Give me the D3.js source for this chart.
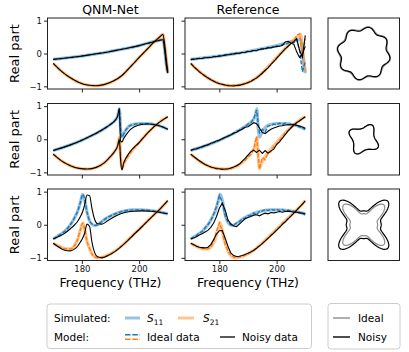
<!DOCTYPE html>
<html>
<head>
<meta charset="utf-8">
<script src="https://cdn.jsdelivr.net/npm/d3@7"></script>
<style>
  body { margin: 0; background: #fff; }
  text { font-family: "DejaVu Sans", sans-serif; }
</style>
</head>
<body>
<div id="chart"></div>
<script>
// Real part of S11 / S21 vs frequency, simulated vs model, 3 shapes

var panelTitles = ["QNM-Net", "Reference"];
var xTicks = [180, 200];
var yTicks = [-1, 0, 1];

// ---- row 1 (wavy circle) ----
var r1Freq = [170,173,176,179,182,185,188,191,194,197,200,203,205,206.5,207.5,208.3,209,209.5,210];
var r1SimS11 = [-0.18,-0.15,-0.12,-0.09,-0.05,-0.01,0.03,0.08,0.13,0.18,0.24,0.31,0.36,0.39,0.41,0.42,0.05,-0.35,-0.6];
var r1SimS21 = [-0.30,-0.55,-0.74,-0.88,-0.96,-0.98,-0.94,-0.84,-0.67,-0.4,-0.12,0.15,0.33,0.45,0.53,0.58,0.2,-0.2,-0.55];

// reference method outputs sampled every 1 THz, 170..210
var refFreq = [170,171,172,173,174,175,176,177,178,179,180,181,182,183,184,185,186,187,188,189,
               190,191,192,193,194,195,196,197,198,199,200,201,202,203,204,205,206,207,208,209,210];

var r1RefIdealS11 = [-0.19,-0.16,-0.17,-0.14,-0.15,-0.11,-0.13,-0.1,-0.09,-0.1,-0.06,-0.07,-0.04,-0.05,-0.01,-0.02,0.02,0.0,0.04,0.03,
                     0.07,0.06,0.1,0.08,0.13,0.14,0.13,0.19,0.17,0.21,0.24,0.23,0.28,0.27,0.32,0.36,0.33,0.42,0.1,-0.55,-0.25];
var r1RefIdealS21 = [-0.31,-0.37,-0.49,-0.53,-0.64,-0.66,-0.76,-0.77,-0.86,-0.86,-0.93,-0.92,-0.98,-0.95,-1.0,-0.96,-0.99,-0.94,-0.96,-0.89,
                     -0.9,-0.82,-0.81,-0.72,-0.69,-0.57,-0.53,-0.41,-0.35,-0.22,-0.16,-0.02,0.03,0.17,0.22,0.35,0.38,0.55,0.6,-0.05,0.45];
var r1RefNoisyS11 = [-0.18,-0.18,-0.16,-0.15,-0.15,-0.13,-0.12,-0.12,-0.1,-0.09,-0.08,-0.07,-0.05,-0.04,-0.03,-0.01,0.0,0.01,0.03,0.04,
                     0.06,0.07,0.09,0.1,0.12,0.14,0.15,0.17,0.18,0.2,0.21,0.22,0.24,0.35,0.37,0.31,0.28,0.05,-0.12,-0.02,0.22];
var r1RefNoisyS21 = [-0.3,-0.4,-0.47,-0.56,-0.62,-0.69,-0.74,-0.8,-0.84,-0.89,-0.91,-0.94,-0.96,-0.98,-0.98,-0.99,-0.97,-0.97,-0.94,-0.92,
                     -0.88,-0.85,-0.79,-0.75,-0.67,-0.6,-0.51,-0.44,-0.33,-0.25,-0.14,-0.05,0.05,0.14,0.22,0.3,0.36,0.45,0.1,-0.12,0.55];

// ---- row 2 (small cushion) ----
var r2Freq = [170,173,176,179,182,185,188,190,191.5,192.5,193.1,193.5,194,194.6,195.5,197,200,203,206,208,210];
var r2SimS11 = [-0.34,-0.26,-0.17,-0.07,0.05,0.18,0.33,0.45,0.56,0.7,0.92,0.35,0.06,0.16,0.3,0.42,0.47,0.47,0.43,0.38,0.3];
var r2SimS21 = [-0.45,-0.66,-0.8,-0.88,-0.9,-0.85,-0.7,-0.52,-0.36,-0.2,0.05,-0.45,-0.88,-0.75,-0.6,-0.4,-0.1,0.19,0.44,0.57,0.68];
var r2QnmNoisyS11 = [-0.34,-0.26,-0.17,-0.07,0.05,0.18,0.33,0.45,0.56,0.7,0.93,-0.05,-0.08,0.02,0.14,0.3,0.43,0.46,0.43,0.38,0.3];
var r2QnmNoisyS21 = [-0.45,-0.66,-0.8,-0.88,-0.9,-0.85,-0.7,-0.52,-0.36,-0.2,0.0,-0.6,-0.93,-0.72,-0.55,-0.36,-0.1,0.19,0.44,0.57,0.68];

var r2RefIdealS11 = [-0.33,-0.31,-0.28,-0.27,-0.22,-0.21,-0.16,-0.14,-0.09,-0.07,-0.03,0.0,0.06,0.08,0.14,0.17,0.24,0.26,0.34,0.37,
                     0.46,0.5,0.62,0.88,0.2,0.3,0.22,0.4,0.42,0.46,0.44,0.49,0.45,0.49,0.44,0.46,0.42,0.43,0.37,0.35,0.3];
var r2RefNoisyS11 = [-0.34,-0.3,-0.29,-0.25,-0.23,-0.19,-0.17,-0.12,-0.1,-0.05,-0.03,0.02,0.05,0.1,0.13,0.19,0.21,0.27,0.3,0.36,
                     0.38,0.44,0.5,0.47,0.34,0.2,0.17,0.24,0.3,0.34,0.37,0.4,0.41,0.43,0.44,0.44,0.45,0.42,0.4,0.37,0.33];
var r2RefIdealS21 = [-0.45,-0.53,-0.57,-0.66,-0.7,-0.76,-0.8,-0.84,-0.87,-0.86,-0.91,-0.88,-0.92,-0.88,-0.89,-0.85,-0.8,-0.77,-0.68,-0.64,
                     -0.53,-0.46,-0.3,0.08,-0.9,-0.55,-0.62,-0.42,-0.38,-0.22,-0.14,-0.02,0.06,0.2,0.26,0.37,0.41,0.52,0.55,0.64,0.68];
var r2RefNoisyS21 = [-0.45,-0.52,-0.59,-0.65,-0.71,-0.76,-0.8,-0.84,-0.86,-0.89,-0.89,-0.91,-0.9,-0.9,-0.87,-0.84,-0.8,-0.75,-0.66,-0.58,
                     -0.48,-0.38,-0.33,-0.4,-0.33,-0.43,-0.34,-0.42,-0.35,-0.3,-0.16,-0.08,0.03,0.14,0.25,0.34,0.43,0.5,0.56,0.62,0.68];

// ---- row 3 (four-lobed star) ----
var r3Freq = [170,172,174,176,177.5,178.5,179.5,180.3,181,181.8,182.7,183.5,184.5,185.5,187,189,192,195,198,201,204,207,210];
var r3SimS11 = [-0.43,-0.32,-0.2,0.0,0.22,0.4,0.68,0.92,0.75,0.38,0.12,0.02,-0.02,0.0,0.1,0.22,0.34,0.42,0.45,0.45,0.43,0.39,0.33];
var r3SimS21 = [-0.56,-0.65,-0.72,-0.73,-0.62,-0.45,-0.15,0.05,-0.15,-0.5,-0.72,-0.88,-0.97,-1.0,-0.98,-0.92,-0.77,-0.55,-0.3,-0.05,0.2,0.45,0.73];
var r3QnmNoisyS11 = [-0.43,-0.35,-0.26,-0.12,0.0,0.1,0.25,0.4,0.62,0.9,0.88,0.5,0.15,0.03,0.02,0.12,0.27,0.37,0.41,0.42,0.41,0.38,0.33];
var r3QnmNoisyS21 = [-0.56,-0.68,-0.77,-0.79,-0.73,-0.65,-0.52,-0.4,-0.25,0.02,-0.05,-0.52,-0.85,-0.97,-1.0,-0.94,-0.78,-0.56,-0.31,-0.06,0.2,0.45,0.73];

var r3RefIdealS11 = [-0.43,-0.37,-0.33,-0.24,-0.21,-0.09,0.0,0.12,0.32,0.55,0.88,0.7,0.28,0.08,-0.01,-0.01,0.06,0.09,0.18,0.2,
                     0.27,0.29,0.36,0.3,0.4,0.41,0.46,0.43,0.47,0.44,0.47,0.43,0.46,0.42,0.44,0.4,0.41,0.37,0.38,0.33,0.3];
var r3RefNoisyS11 = [-0.43,-0.4,-0.36,-0.31,-0.27,-0.22,-0.17,-0.08,0.05,0.25,0.5,0.65,0.45,0.15,0.03,-0.04,-0.06,0.02,0.1,0.18,
                     0.22,0.25,0.29,0.3,0.27,0.32,0.35,0.33,0.37,0.36,0.38,0.4,0.38,0.4,0.41,0.4,0.38,0.38,0.36,0.35,0.33];
var r3RefIdealS21 = [-0.56,-0.62,-0.64,-0.7,-0.71,-0.74,-0.72,-0.67,-0.5,-0.2,0.06,-0.2,-0.58,-0.78,-0.92,-0.97,-1.0,-0.97,-0.96,-0.91,
                     -0.88,-0.82,-0.78,-0.7,-0.64,-0.56,-0.49,-0.4,-0.31,-0.24,-0.13,-0.07,0.04,0.1,0.21,0.27,0.37,0.44,0.53,0.61,0.72];
var r3RefNoisyS21 = [-0.56,-0.6,-0.65,-0.68,-0.69,-0.7,-0.68,-0.6,-0.45,-0.28,-0.18,-0.17,-0.4,-0.65,-0.85,-0.93,-0.96,-0.95,-0.93,-0.9,
                     -0.86,-0.82,-0.77,-0.71,-0.64,-0.57,-0.49,-0.41,-0.33,-0.25,-0.16,-0.08,0.01,0.09,0.18,0.26,0.35,0.44,0.53,0.62,0.72];

// shape outlines: radius = r0 + a*cos(n*t) + b*cos(2n*t) + e*cos(2*angle)
// t measured from the rotation angle, angle from 12 o'clock
var shapeOrder = [8, 4, 4];
var shapeRotation = [12, 30, 45];        // degrees
var shapeIdealCoef = [[0.71, 0.05, 0.0, 0.0], [0.365, 0.08, 0.012, 0.0], [0.5, 0.22, 0.07, -0.04]];
var shapeNoisyCoef = [[0.69, 0.055, 0.0, 0.0], [0.37, 0.08, 0.012, 0.0], [0.61, 0.25, 0.08, -0.05]];

// table the drawing loop walks through (built from the arrays above)
// QNM-Net ideal model sits on top of the simulation, and for row 1 so does the noisy one
var rows = [
    { f: r1Freq, sim: [r1SimS11, r1SimS21], qIdeal: [r1SimS11, r1SimS21], qNoisy: [r1SimS11, r1SimS21],
      rIdeal: [r1RefIdealS11, r1RefIdealS21], rNoisy: [r1RefNoisyS11, r1RefNoisyS21] },
    { f: r2Freq, sim: [r2SimS11, r2SimS21], qIdeal: [r2SimS11, r2SimS21], qNoisy: [r2QnmNoisyS11, r2QnmNoisyS21],
      rIdeal: [r2RefIdealS11, r2RefIdealS21], rNoisy: [r2RefNoisyS11, r2RefNoisyS21] },
    { f: r3Freq, sim: [r3SimS11, r3SimS21], qIdeal: [r3SimS11, r3SimS21], qNoisy: [r3QnmNoisyS11, r3QnmNoisyS21],
      rIdeal: [r3RefIdealS11, r3RefIdealS21], rNoisy: [r3RefNoisyS11, r3RefNoisyS21] }
];

// ---- layout ----
var W = 409, H = 352;
var colX = [[47.5, 173.5], [185, 311]];
var shapeX = [328, 399.5];
var rowY = [[18, 89], [103.5, 175], [189, 260.5]];
var blue = "#1f77b4", orange = "#ff7f0e";
var colors = [blue, orange];

var svg = d3.select("#chart").append("svg")
    .attr("width", W)
    .attr("height", H);

function zip(f, v) {
    return f.map(function (d, i) { return [d, v[i]]; });
}

rows.forEach(function (row, r) {
    [0, 1].forEach(function (c) {
        var xs = d3.scaleLinear().domain([168, 212]).range(colX[c]);
        var ys = d3.scaleLinear().domain([-1.08, 1.08]).range([rowY[r][1], rowY[r][0]]);

        var clipId = "clip" + r + c;
        svg.append("clipPath").attr("id", clipId)
            .append("rect")
            .attr("x", colX[c][0]).attr("y", rowY[r][0])
            .attr("width", colX[c][1] - colX[c][0])
            .attr("height", rowY[r][1] - rowY[r][0]);

        var g = svg.append("g").attr("clip-path", "url(#" + clipId + ")");

        var smooth = d3.line()
            .x(function (d) { return xs(d[0]); })
            .y(function (d) { return ys(d[1]); })
            .curve(d3.curveMonotoneX);
        var jagged = d3.line()
            .x(function (d) { return xs(d[0]); })
            .y(function (d) { return ys(d[1]); });

        // simulated: wide pale lines
        row.sim.forEach(function (v, k) {
            g.append("path")
                .datum(zip(row.f, v))
                .attr("fill", "none")
                .attr("stroke", colors[k])
                .attr("stroke-opacity", 0.45)
                .attr("stroke-width", 3.2)
                .attr("d", smooth);
        });

        // ideal-data model: dashed
        var ideal = c == 0 ? row.qIdeal : row.rIdeal;
        ideal.forEach(function (v, k) {
            g.append("path")
                .datum(zip(c == 0 ? row.f : refFreq, v))
                .attr("fill", "none")
                .attr("stroke", colors[k])
                .attr("stroke-width", 1.4)
                .attr("stroke-dasharray", "4,1.6")
                .attr("d", c == 0 ? smooth : jagged);
        });

        // noisy-data model: thin black
        var noisy = c == 0 ? row.qNoisy : row.rNoisy;
        noisy.forEach(function (v) {
            g.append("path")
                .datum(zip(c == 0 ? row.f : refFreq, v))
                .attr("fill", "none")
                .attr("stroke", "black")
                .attr("stroke-width", 1.1)
                .attr("d", c == 0 ? smooth : jagged);
        });

        // axes
        var yAxis = d3.axisLeft(ys).tickValues(yTicks).tickSize(3.5).tickPadding(2)
            .tickFormat(c == 0 ? d3.format("d") : "");
        var yG = svg.append("g")
            .attr("transform", "translate(" + colX[c][0] + ",0)")
            .call(yAxis);
        var xAxis = d3.axisBottom(xs).tickValues(xTicks).tickSize(3.5).tickPadding(2)
            .tickFormat(r == 2 ? d3.format("d") : "");
        var xG = svg.append("g")
            .attr("transform", "translate(0," + rowY[r][1] + ")")
            .call(xAxis);
        [yG, xG].forEach(function (a) {
            a.select(".domain").remove();
            a.selectAll("line").attr("stroke", "#222");
            a.selectAll("text")
                .attr("fill", "#111")
                .style("font-size", "8.5px")
                .style("font-family", "DejaVu Sans");
        });

        svg.append("rect")
            .attr("x", colX[c][0]).attr("y", rowY[r][0])
            .attr("width", colX[c][1] - colX[c][0])
            .attr("height", rowY[r][1] - rowY[r][0])
            .attr("fill", "none")
            .attr("stroke", "#222")
            .attr("stroke-width", 1);
    });

    // y label
    svg.append("text")
        .attr("transform", "translate(18.5," + (rowY[r][0] + rowY[r][1]) / 2 + ") rotate(-90)")
        .attr("text-anchor", "middle")
        .style("font-size", "13px")
        .text("Real part");

    // shape panel
    var sx = d3.scaleLinear().domain([-1, 1]).range(shapeX);
    var unit = (shapeX[1] - shapeX[0]) / 2;
    var cy = (rowY[r][0] + rowY[r][1]) / 2;
    var angles = d3.range(0, 361, 2);
    var sg = svg.append("g")
        .attr("transform", "translate(" + sx(0) + "," + cy + ")");
    [[shapeIdealCoef[r], "#8c8c8c"], [shapeNoisyCoef[r], "black"]].forEach(function (p) {
        var cf = p[0], n = shapeOrder[r], rot = shapeRotation[r];
        var radial = d3.lineRadial()
            .angle(function (a) { return a * Math.PI / 180; })
            .radius(function (a) {
                var t = (a - rot) * Math.PI / 180;
                var ab = a * Math.PI / 180;
                return unit * (cf[0] + cf[1] * Math.cos(n * t) + cf[2] * Math.cos(2 * n * t)
                    + cf[3] * Math.cos(2 * ab));
            })
            .curve(d3.curveLinearClosed);
        sg.append("path")
            .attr("d", radial(angles))
            .attr("fill", "none")
            .attr("stroke", p[1])
            .attr("stroke-width", 1.2);
    });
    svg.append("rect")
        .attr("x", shapeX[0]).attr("y", rowY[r][0])
        .attr("width", shapeX[1] - shapeX[0])
        .attr("height", rowY[r][1] - rowY[r][0])
        .attr("fill", "none")
        .attr("stroke", "#222");
});

// titles and x labels
panelTitles.forEach(function (t, c) {
    var mid = (colX[c][0] + colX[c][1]) / 2;
    svg.append("text")
        .attr("x", mid).attr("y", 13.5)
        .attr("text-anchor", "middle")
        .style("font-size", "12.5px")
        .text(t);
    svg.append("text")
        .attr("x", mid).attr("y", 287)
        .attr("text-anchor", "middle")
        .style("font-size", "12.5px")
        .text("Frequency (THz)");
});

// ---- legends ----
var lg = svg.append("g").style("font-size", "10.5px");
lg.append("rect")
    .attr("x", 47).attr("y", 304).attr("width", 264.5).attr("height", 44.5)
    .attr("rx", 3).attr("fill", "white").attr("stroke", "#ccc");
lg.append("rect")
    .attr("x", 328).attr("y", 303.5).attr("width", 72).attr("height", 45.5)
    .attr("rx", 3).attr("fill", "white").attr("stroke", "#ccc");

var row1 = 318, row2 = 337;
lg.append("text").attr("x", 54).attr("y", row1 + 4).text("Simulated:");
lg.append("text").attr("x", 54).attr("y", row2 + 4).text("Model:");

function seg(x1, x2, y, color, opts) {
    var l = lg.append("line")
        .attr("x1", x1).attr("x2", x2).attr("y1", y).attr("y2", y)
        .attr("stroke", color)
        .attr("stroke-width", opts.w || 1.5);
    if (opts.op) l.attr("stroke-opacity", opts.op);
    if (opts.dash) l.attr("stroke-dasharray", opts.dash);
}

function sLabel(x, y, sub) {
    var t = lg.append("text").attr("x", x).attr("y", y);
    t.append("tspan").style("font-style", "italic").text("S");
    t.append("tspan").attr("dy", 2.5).style("font-size", "7.5px").text(sub);
}

seg(125, 140, row1, blue, { w: 3, op: 0.45 });
sLabel(147, row1 + 4, "11");
seg(178, 194, row1, orange, { w: 3, op: 0.45 });
sLabel(203, row1 + 4, "21");

seg(125, 140, row2 - 2.2, blue, { w: 1.6, dash: "5.5,1.8" });
seg(125, 140, row2 + 2.2, orange, { w: 1.6, dash: "5.5,1.8" });
lg.append("text").attr("x", 147).attr("y", row2 + 4).text("Ideal data");
seg(220, 235, row2, "black", { w: 1.3 });
lg.append("text").attr("x", 242).attr("y", row2 + 4).text("Noisy data");

seg(333, 350, row1, "#8c8c8c", { w: 1.4 });
lg.append("text").attr("x", 358).attr("y", row1 + 4).text("Ideal");
seg(333, 350, row2, "black", { w: 1.4 });
lg.append("text").attr("x", 358).attr("y", row2 + 4).text("Noisy");
</script>
</body>
</html>
